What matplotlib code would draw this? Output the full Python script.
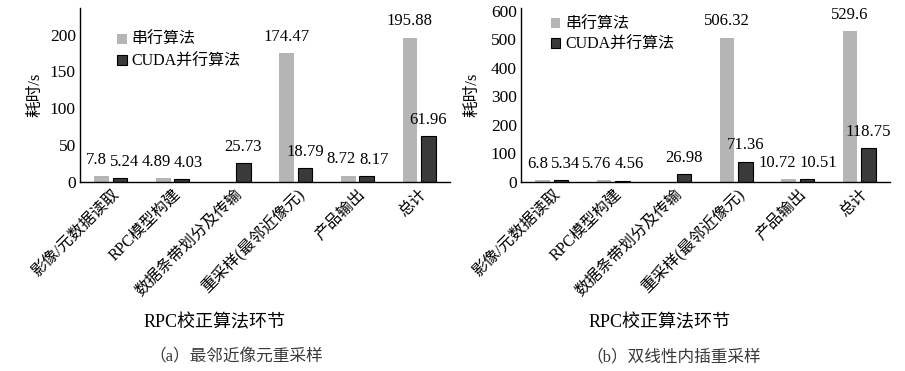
import numpy as np
import matplotlib.pyplot as plt

plt.rcParams['font.family'] = ['Liberation Serif', 'Noto Sans CJK SC']

categories = ['影像/元数据读取', 'RPC模型构建', '数据条带划分及传输',
              '重采样(最邻近像元)', '产品输出', '总计']
series_names = ['串行算法', 'CUDA并行算法']

# (a) nearest neighbour resampling
serial_a = [7.8, 4.89, np.nan, 174.47, 8.72, 195.88]
cuda_a = [5.24, 4.03, 25.73, 18.79, 8.17, 61.96]
# (b) bilinear interpolation resampling
serial_b = [6.8, 5.76, np.nan, 506.32, 10.72, 529.6]
cuda_b = [5.34, 4.56, 26.98, 71.36, 10.51, 118.75]

yticks_a = [0, 50, 100, 150, 200]
yticks_b = [0, 100, 200, 300, 400, 500, 600]

GRAY = '#b5b5b5'
DARK = '#3a3a3a'

fig = plt.figure(figsize=(9.05, 3.71), dpi=100)
ax_a = fig.add_axes([80 / 905, 1 - 182 / 371, 370 / 905, 174 / 371])
ax_b = fig.add_axes([521 / 905, 1 - 182 / 371, 369 / 905, 174 / 371])

label_pairs = []


def draw(ax, serial, cuda, yticks, ymax, ylab_x, leg_xy, leg_space):
    x = np.arange(len(categories))
    w = 0.24
    b1 = ax.bar(x - 0.15, serial, w, color=GRAY, label=series_names[0])
    b2 = ax.bar(x + 0.15, cuda, w, color=DARK, edgecolor='black',
                linewidth=0.8, label=series_names[1])
    for i in range(len(categories)):
        pair = []
        for bars, vals in ((b1, serial), (b2, cuda)):
            v = vals[i]
            if np.isnan(v):
                pair.append(None)
                continue
            r = bars[i]
            t = ax.annotate('{:g}'.format(v),
                            (r.get_x() + r.get_width() / 2, v),
                            xytext=(0, 6), textcoords='offset points',
                            ha='center', va='bottom', fontsize=12)
            pair.append(t)
        label_pairs.append(pair)
    ax.set_xlim(-0.5, len(categories) - 0.5)
    ax.set_ylim(0, ymax)
    ax.set_yticks(yticks)
    ax.tick_params(axis='y', labelsize=12.5, length=0, pad=3)
    ax.set_xticks(x)
    ax.set_xticklabels(categories, rotation=45, ha='right', va='top',
                       rotation_mode='anchor', fontsize=11.5)
    ax.tick_params(axis='x', length=0, pad=3)
    for s in ('top', 'right'):
        ax.spines[s].set_visible(False)
    for s in ('left', 'bottom'):
        ax.spines[s].set_linewidth(1.0)
    ax.set_ylabel('耗时/s', fontsize=12)
    ax.yaxis.set_label_coords(ylab_x, 0.5)
    ax.legend(loc='upper left', bbox_to_anchor=leg_xy, frameon=False,
              fontsize=11.5, handlelength=0.6, handleheight=0.6,
              handletextpad=0.3, labelspacing=leg_space, borderpad=0,
              borderaxespad=0)


draw(ax_a, serial_a, cuda_a, yticks_a, 236, -0.10, (0.1, 0.86), 0.35)
draw(ax_b, serial_b, cuda_b, yticks_b, 610, -0.111, (0.08, 0.95), 0.25)

fig.text(215 / 905, 1 - 323 / 371, 'RPC校正算法环节', ha='center', va='center',
         fontsize=13)
fig.text(660 / 905, 1 - 323 / 371, 'RPC校正算法环节', ha='center', va='center',
         fontsize=13)
fig.text(236 / 905, 1 - 357 / 371, '（a）最邻近像元重采样', ha='center',
         va='center', fontsize=12, color='#3a3a3a')
fig.text(674 / 905, 1 - 357 / 371, '（b）双线性内插重采样', ha='center',
         va='center', fontsize=12, color='#3a3a3a')

# push apart value labels of a category that would overlap
fig.canvas.draw()
renderer = fig.canvas.get_renderer()
for t1, t2 in label_pairs:
    if t1 is None or t2 is None:
        continue
    e1 = t1.get_window_extent(renderer)
    e2 = t2.get_window_extent(renderer)
    if e1.overlaps(e2):
        over = e1.x1 - e2.x0 + 3
        k = 72 / fig.dpi
        t1.xyann = (-over / 2 * k, 6)
        t2.xyann = (over / 2 * k, 6)

fig.savefig('out.png', dpi=100)
